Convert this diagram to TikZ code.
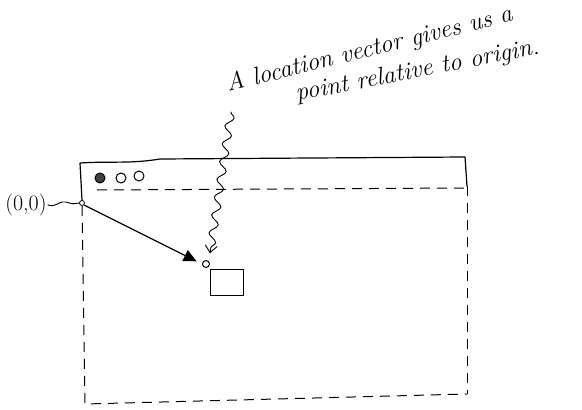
\documentclass[tikz,border=0pt]{standalone}
\usetikzlibrary{decorations.pathmorphing,arrows.meta}
\begin{document}
\begin{tikzpicture}[x=1pt,y=-1pt,
  ink/.style={line width=1.2pt,line cap=round,line join=round},
  thinink/.style={line width=0.9pt,line cap=round},
  dashink/.style={line width=1pt,dash pattern=on 10pt off 7pt},
  btn/.style={circle,draw,line width=1pt,inner sep=0pt,minimum size=10pt},
  handtext/.style={font=\itshape\fontsize{25}{30}\selectfont,inner sep=0pt,anchor=base west}]
\useasboundingbox (0,0) rectangle (582,410);
% window frame
\coordinate (tl) at (80,163);
\coordinate (tr) at (465,157);
\coordinate (trb) at (467,186);
\coordinate (bl) at (85,404);
\coordinate (br) at (467,394);
\node[circle,draw,line width=0.8pt,inner sep=0pt,minimum size=5pt] (origin) at (82,203) {};
\draw[ink] (origin.north) -- (tl) .. controls (110,161) and (130,164) .. (160,159) -- (tr) -- (trb);
\draw[dashink] (97,190) -- (466,188);
\draw[dashink] (origin.south) -- (bl) -- (br);
\draw[dashink] (trb) -- (br);
% buttons
\node[btn,fill=black!75] (b1) at (100,178) {};
\node[btn] (b2) at (121,178) {};
\node[btn] (b3) at (139,176) {};
% label
\node[font=\fontsize{22}{24}\selectfont,inner sep=1pt] (lbl) at (26,205) {(0,0)};
\draw[thinink] (lbl.east) .. controls (56,208) and (60,200) .. (66,202) .. controls (72,204) .. (origin.west);
% location vector
\node[circle,draw,line width=1pt,inner sep=0pt,minimum size=7pt] (pt) at (206,264) {};
\node[draw,line width=1.2pt,minimum width=33pt,minimum height=26pt,inner sep=0pt,anchor=north west] (box) at (210,269) {};
\draw[ink,shorten >=6pt,-{Triangle[length=13pt,width=12pt]}] (origin.south east) -- (pt.west);
% annotation
\node[handtext,rotate=14] (t1) at (228,92) {A location vector gives us a};
\node[handtext,rotate=11] (t2) at (297,101) {point relative to origin.};
\coordinate (wstart) at (231,112);
\draw[thinink,shorten >=8pt,-{Straight Barb[length=7pt,width=12pt]},decorate,decoration={snake,amplitude=4pt,segment length=18pt,post length=10pt}] (wstart) -- (pt.north east);
\end{tikzpicture}
\end{document}
